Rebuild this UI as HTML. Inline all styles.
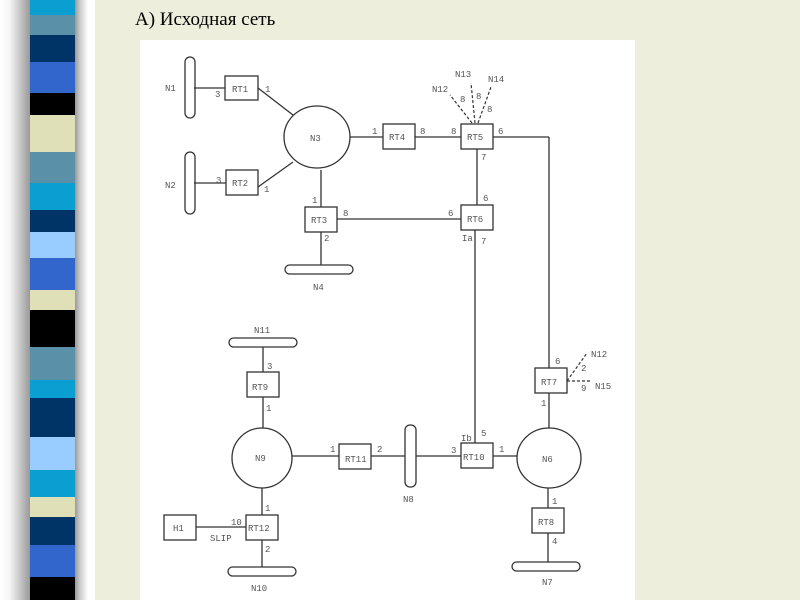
<!DOCTYPE html>
<html><head><meta charset="utf-8"><style>
body{margin:0;width:800px;height:600px;overflow:hidden;background:#eeeedc;position:relative;font-family:"Liberation Serif",serif}
#shadow{position:absolute;left:0;top:0;width:95px;height:600px;background:linear-gradient(90deg,#fff 0,#f4f4f4 10px,#999 30px,#999 75px,#ccc 80px,#fff 88px,#fff 95px)}
#stripes{position:absolute;left:30px;top:0;width:45px;height:600px}
#stripes div{width:100%}
#title{position:absolute;left:135px;top:9px;font-size:19px;color:#000}
#panel{position:absolute;left:140px;top:40px;width:495px;height:560px;background:#fff}
svg{position:absolute;left:0;top:0}
text{font-family:"Liberation Mono",monospace;font-size:9px;fill:#555}
</style></head><body>
<div id="shadow"></div>
<div id="stripes">
<div style="height:15px;background:#0a9fd0"></div>
<div style="height:20px;background:#5a90a8"></div>
<div style="height:27px;background:#003366"></div>
<div style="height:31px;background:#3366cc"></div>
<div style="height:22px;background:#000"></div>
<div style="height:37px;background:#e0e0b8"></div>
<div style="height:31px;background:#5a90a8"></div>
<div style="height:27px;background:#0a9fd0"></div>
<div style="height:22px;background:#003366"></div>
<div style="height:26px;background:#99ccff"></div>
<div style="height:32px;background:#3366cc"></div>
<div style="height:20px;background:#e0e0b8"></div>
<div style="height:37px;background:#000"></div>
<div style="height:33px;background:#5a90a8"></div>
<div style="height:18px;background:#0a9fd0"></div>
<div style="height:39px;background:#003366"></div>
<div style="height:33px;background:#99ccff"></div>
<div style="height:27px;background:#0a9fd0"></div>
<div style="height:20px;background:#e0e0b8"></div>
<div style="height:28px;background:#003366"></div>
<div style="height:32px;background:#3366cc"></div>
<div style="height:23px;background:#000"></div>
</div>
<div id="title">А) Исходная сеть</div>
<div id="panel"></div>
<svg width="800" height="600" viewBox="0 0 800 600">
<g stroke="#333" stroke-width="1.3" fill="none">
<line x1="194" y1="88" x2="225" y2="88"/>
<line x1="194" y1="183" x2="226" y2="183"/>
<line x1="258" y1="88" x2="293" y2="115"/>
<line x1="258" y1="187" x2="293" y2="162"/>
<line x1="350" y1="137" x2="383" y2="137"/>
<line x1="415" y1="137" x2="461" y2="137"/>
<line x1="493" y1="137" x2="549" y2="137"/>
<line x1="549" y1="137" x2="549" y2="368"/>
<line x1="477" y1="149" x2="477" y2="205"/>
<line x1="321" y1="170" x2="321" y2="207"/>
<line x1="337" y1="219" x2="461" y2="219"/>
<line x1="321" y1="232" x2="321" y2="265"/>
<line x1="475" y1="230" x2="475" y2="443"/>
<line x1="549" y1="393" x2="549" y2="428"/>
<line x1="493" y1="456" x2="517" y2="456"/>
<line x1="416" y1="456" x2="461" y2="456"/>
<line x1="371" y1="456" x2="405" y2="456"/>
<line x1="292" y1="456" x2="339" y2="456"/>
<line x1="548" y1="488" x2="548" y2="508"/>
<line x1="548" y1="533" x2="548" y2="562"/>
<line x1="263" y1="347" x2="263" y2="372"/>
<line x1="263" y1="397" x2="263" y2="428"/>
<line x1="262" y1="488" x2="262" y2="515"/>
<line x1="262" y1="540" x2="262" y2="567"/>
<line x1="196" y1="527" x2="246" y2="527"/>
<rect x="225" y="76" width="33" height="24"/>
<rect x="226" y="170" width="32" height="25"/>
<rect x="383" y="124" width="32" height="25"/>
<rect x="461" y="124" width="32" height="25"/>
<rect x="461" y="205" width="32" height="25"/>
<rect x="305" y="207" width="32" height="25"/>
<rect x="535" y="368" width="32" height="25"/>
<rect x="461" y="443" width="32" height="25"/>
<rect x="339" y="444" width="32" height="25"/>
<rect x="532" y="508" width="32" height="25"/>
<rect x="247" y="372" width="32" height="25"/>
<rect x="246" y="515" width="32" height="25"/>
<rect x="164" y="515" width="32" height="25"/>
<ellipse cx="317" cy="137" rx="33" ry="31"/>
<ellipse cx="549" cy="458" rx="32" ry="30"/>
<ellipse cx="262" cy="458" rx="30" ry="30"/>
<rect x="185" y="57" width="10" height="61" rx="5"/>
<rect x="185" y="152" width="10" height="62" rx="5"/>
<rect x="405" y="425" width="11" height="62" rx="5"/>
<rect x="285" y="265" width="68" height="9" rx="4.5"/>
<rect x="229" y="338" width="68" height="9" rx="4.5"/>
<rect x="228" y="567" width="68" height="9" rx="4.5"/>
<rect x="512" y="562" width="68" height="9" rx="4.5"/>
</g>
<g stroke="#333" stroke-width="1.2" stroke-dasharray="3,2" fill="none">
<line x1="472" y1="123" x2="450" y2="95"/>
<line x1="475" y1="123" x2="471" y2="83"/>
<line x1="478" y1="123" x2="491" y2="87"/>
<line x1="567" y1="381" x2="587" y2="353"/>
<line x1="567" y1="381" x2="590" y2="381"/>
</g>
<g>
<text x="165" y="91">N1</text><text x="165" y="188">N2</text>
<text x="215" y="97">3</text><text x="265" y="92">1</text>
<text x="216" y="183">3</text><text x="264" y="192">1</text>
<text x="232" y="92">RT1</text><text x="232" y="186">RT2</text>
<text x="310" y="141">N3</text>
<text x="372" y="134">1</text><text x="389" y="140">RT4</text><text x="420" y="134">8</text>
<text x="451" y="134">8</text><text x="467" y="140">RT5</text><text x="498" y="134">6</text>
<text x="481" y="160">7</text><text x="483" y="201">6</text>
<text x="448" y="216">6</text><text x="467" y="222">RT6</text>
<text x="462" y="241">Ia</text><text x="481" y="244">7</text>
<text x="432" y="92">N12</text><text x="455" y="77">N13</text><text x="488" y="82">N14</text>
<text x="460" y="102">8</text><text x="476" y="99">8</text><text x="487" y="112">8</text>
<text x="312" y="203">1</text><text x="311" y="223">RT3</text><text x="343" y="216">8</text>
<text x="324" y="241">2</text><text x="313" y="290">N4</text>
<text x="555" y="364">6</text><text x="541" y="385">RT7</text><text x="581" y="371">2</text>
<text x="581" y="391">9</text><text x="591" y="357">N12</text><text x="595" y="389">N15</text>
<text x="541" y="406">1</text>
<text x="461" y="441">Ib</text><text x="481" y="436">5</text>
<text x="451" y="453">3</text><text x="463" y="460">RT10</text><text x="499" y="452">1</text>
<text x="542" y="462">N6</text>
<text x="552" y="504">1</text><text x="538" y="525">RT8</text><text x="552" y="544">4</text>
<text x="542" y="585">N7</text>
<text x="330" y="452">1</text><text x="345" y="462">RT11</text><text x="377" y="452">2</text>
<text x="403" y="502">N8</text>
<text x="254" y="333">N11</text><text x="267" y="369">3</text>
<text x="252" y="390">RT9</text><text x="266" y="411">1</text>
<text x="255" y="461">N9</text>
<text x="265" y="511">1</text><text x="248" y="531">RT12</text>
<text x="231" y="525">10</text><text x="210" y="541">SLIP</text>
<text x="173" y="531">H1</text><text x="265" y="552">2</text>
<text x="251" y="591">N10</text>
</g>
</svg>
</body></html>
